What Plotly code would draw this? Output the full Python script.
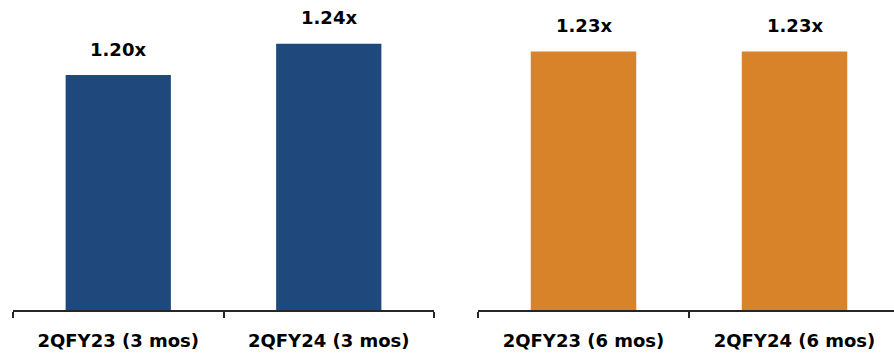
import plotly.graph_objects as go

# Coverage ratios by period
cats_3m = ["2QFY23 (3 mos)", "2QFY24 (3 mos)"]
vals_3m = [1.20, 1.24]
cats_6m = ["2QFY23 (6 mos)", "2QFY24 (6 mos)"]
vals_6m = [1.23, 1.23]

BLUE = "#1F497C"
ORANGE = "#D8822A"
FONT = "DejaVu Sans"

W, H = 894, 353
MB = 43
Y0 = 0.9
PX_PER_UNIT = 783
y_top = Y0 + (H - MB) / PX_PER_UNIT

fig = go.Figure()
fig.add_trace(go.Bar(x=cats_3m, y=vals_3m, marker=dict(color=BLUE, line_width=0),
                     xaxis="x", yaxis="y", hoverinfo="skip"))
fig.add_trace(go.Bar(x=cats_6m, y=vals_6m, marker=dict(color=ORANGE, line_width=0),
                     xaxis="x2", yaxis="y2", hoverinfo="skip"))

axis_common = dict(
    type="category", tickson="boundaries", ticks="outside", ticklen=6,
    tickwidth=1.5, tickcolor="#262626", showline=True, linecolor="#262626",
    linewidth=1.5, showgrid=False, zeroline=False, ticklabelstandoff=14,
    tickfont=dict(family=FONT, size=18, color="#000000", weight="bold"),
)
yaxis_common = dict(range=[Y0, y_top], visible=False, domain=[0, 1])

fig.update_layout(
    width=W, height=H,
    margin=dict(l=0, r=0, t=0, b=MB),
    paper_bgcolor="white", plot_bgcolor="white",
    showlegend=False, bargap=0.5,
    xaxis=dict(domain=[13 / W, 434 / W], range=[-0.5, 1.5], anchor="y", **axis_common),
    xaxis2=dict(domain=[478 / W, 1.0], range=[-0.5, 1.5 - 6 / 211], anchor="y2", **axis_common),
    yaxis=dict(anchor="x", **yaxis_common),
    yaxis2=dict(anchor="x2", **yaxis_common),
)

# Value labels above each bar
for xref, yref, cats, vals in (("x", "y", cats_3m, vals_3m), ("x2", "y2", cats_6m, vals_6m)):
    for c, v in zip(cats, vals):
        fig.add_annotation(
            x=c, y=v, xref=xref, yref=yref, text=f"{v:.2f}x", showarrow=False,
            yanchor="middle", yshift=26,
            font=dict(family=FONT, size=18, color="#000000", weight="bold"),
        )

fig.write_html("out.html")
